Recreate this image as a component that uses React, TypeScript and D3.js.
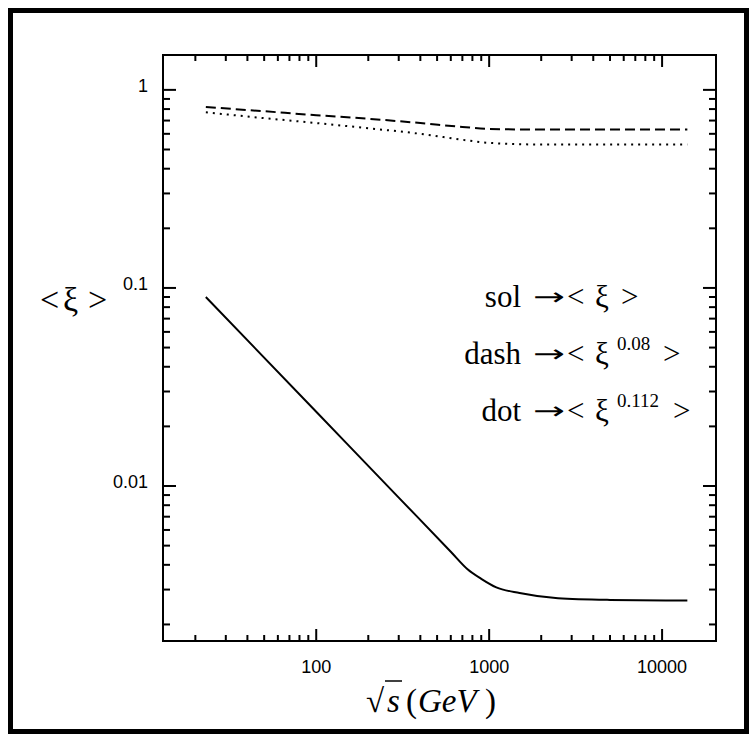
import React from 'react';
import * as d3 from 'd3';

const energies = [23, 100, 300, 600, 750, 900, 1100, 1500, 2500, 5000, 14000];
const solidVals = [0.09, 0.0237, 0.00874, 0.00466, 0.0038, 0.0034, 0.00308, 0.00288, 0.00271, 0.00266, 0.00264];
const curveE = [23, 50, 100, 200, 400, 700, 1000, 2000, 5000, 14000];
const dashVals = [0.82, 0.78, 0.745, 0.715, 0.68, 0.65, 0.635, 0.63, 0.63, 0.63];
const dotVals = [0.77, 0.72, 0.68, 0.64, 0.6, 0.56, 0.54, 0.53, 0.53, 0.53];
const xMajor = [100, 1000, 10000];
const xMajorLabels = ['100', '1000', '10000'];
const yMajor = [1, 0.1, 0.01];
const yMajorLabels = ['1', '0.1', '0.01'];

const W = 756, H = 735;
const L = 163, R = 716, T = 55, B = 641;

export default function App() {
  const x = d3.scaleLog().domain([13, 20500]).range([L, R]);
  const y = d3.scaleLog().domain([0.00165, 1.5]).range([B, T]);
  const line = (xs: number[], ys: number[]) =>
    d3.line<number>().x((_, i) => x(xs[i])).y((d) => y(d)).curve(d3.curveMonotoneX)(ys) as string;

  const xMinor = x.ticks().filter((t) => x(t) > L + 3 && x(t) < R - 3 && !xMajor.includes(t));
  const yMinor = y.ticks().filter((t) => y(t) > T + 3 && y(t) < B - 3 && !yMajor.some((m) => Math.abs(m - t) < 1e-9));
  const sans = '"Liberation Sans", Arial, sans-serif';
  const serif = '"Liberation Serif", "Times New Roman", serif';
  const arrowFont = '"DejaVu Sans", sans-serif';

  const legend = [
    { word: 'sol', sup: '', yb: 307, close: 621 },
    { word: 'dash', sup: '0.08', yb: 364, close: 663 },
    { word: 'dot', sup: '0.112', yb: 421, close: 673 },
  ];

  return (
    <svg width={W} height={H} style={{ position: 'absolute', left: 0, top: 0, background: '#fff' }}>
      <rect x={0} y={0} width={W} height={H} fill="#fff" />
      <rect x={10.5} y={10.5} width={736} height={721} fill="none" stroke="#000" strokeWidth={5} />
      <rect x={L} y={T} width={R - L} height={B - T} fill="none" stroke="#000" strokeWidth={2} />
      {xMinor.map((t) => (
        <g key={'xm' + t}>
          <line x1={x(t)} x2={x(t)} y1={B} y2={B - 6} stroke="#000" strokeWidth={2} />
          <line x1={x(t)} x2={x(t)} y1={T} y2={T + 6} stroke="#000" strokeWidth={2} />
        </g>
      ))}
      {xMajor.map((t, i) => (
        <g key={'xM' + t}>
          <line x1={x(t)} x2={x(t)} y1={B} y2={B - 12} stroke="#000" strokeWidth={2} />
          <line x1={x(t)} x2={x(t)} y1={T} y2={T + 12} stroke="#000" strokeWidth={2} />
          <text x={x(t)} y={673} textAnchor="middle" fontFamily={sans} fontSize={18}>{xMajorLabels[i]}</text>
        </g>
      ))}
      {yMinor.map((t) => (
        <g key={'ym' + t}>
          <line x1={L} x2={L + 7} y1={y(t)} y2={y(t)} stroke="#000" strokeWidth={2} />
          <line x1={R} x2={R - 7} y1={y(t)} y2={y(t)} stroke="#000" strokeWidth={2} />
        </g>
      ))}
      {yMajor.map((t, i) => (
        <g key={'yM' + t}>
          <line x1={L} x2={L + 13} y1={y(t)} y2={y(t)} stroke="#000" strokeWidth={2} />
          <line x1={R} x2={R - 13} y1={y(t)} y2={y(t)} stroke="#000" strokeWidth={2} />
          <text x={148} y={y(t) + 2} textAnchor="end" fontFamily={sans} fontSize={18}>{yMajorLabels[i]}</text>
        </g>
      ))}
      <path d={line(energies, solidVals)} fill="none" stroke="#000" strokeWidth={2} />
      <path d={line(curveE, dashVals)} fill="none" stroke="#000" strokeWidth={2} strokeDasharray="10,5" />
      <path d={line(curveE, dotVals)} fill="none" stroke="#000" strokeWidth={2} strokeDasharray="2,5" />

      <g fontFamily={serif} fontSize={34}>
        <text x={40} y={311}>&lt;</text>
        <text x={63} y={311}>ξ</text>
        <text x={88} y={311}>&gt;</text>
      </g>

      {legend.map((d) => (
        <g key={d.word} fontFamily={serif} fontSize={31}>
          <text x={521} y={d.yb} textAnchor="end">{d.word}</text>
          <text x={533} y={d.yb - 2} fontFamily={arrowFont} fontSize={24} textLength={32} lengthAdjust="spacingAndGlyphs">→</text>
          <text x={567} y={d.yb}>&lt;</text>
          <text x={595} y={d.yb}>ξ</text>
          {d.sup && <text x={617} y={d.yb - 14} fontSize={19}>{d.sup}</text>}
          <text x={d.close} y={d.yb}>&gt;</text>
        </g>
      ))}

      <g fontFamily={serif} fontSize={33}>
        <text x={366} y={712}>√</text>
        <line x1={385} x2={402} y1={681} y2={681} stroke="#000" strokeWidth={1.5} />
        <text x={387} y={712} fontStyle="italic">s</text>
        <text x={406} y={712}>(</text>
        <text x={418} y={712} fontStyle="italic">GeV</text>
        <text x={485} y={712}>)</text>
      </g>
    </svg>
  );
}
